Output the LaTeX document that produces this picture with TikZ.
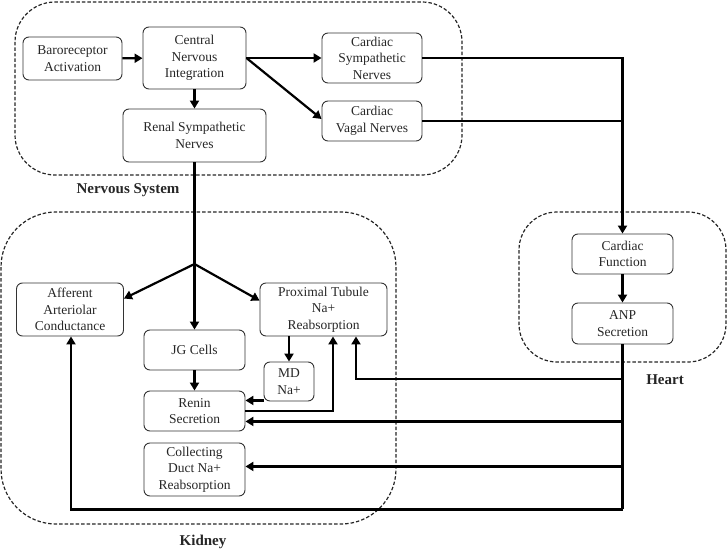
\documentclass[tikz,border=0pt]{standalone}
\usepackage{fontspec}
\setmainfont{Liberation Serif}
\usetikzlibrary{arrows.meta,calc}
\begin{document}
\begin{tikzpicture}[x=1pt,y=-1pt,
 box/.style={draw=black!80, line width=0.9pt, rounded corners=6pt, align=center, inner sep=0pt, text=black!85, font=\fontsize{13.5}{16.5}\selectfont},
 grp/.style={draw=black!85, dash pattern=on 3.5pt off 2pt, line width=1.2pt},
 lbl/.style={font=\fontsize{15}{18}\selectfont\bfseries, text=black!85},
 arr/.style={draw=black, line width=2.2pt, -{Triangle[length=8pt,width=9pt]}},
 bus/.style={draw=black, line width=2.2pt}]
\useasboundingbox (0,0) rectangle (727,553);
% groups
\draw[grp, rounded corners=40pt] (15,2) rectangle (462,175);
\draw[grp, rounded corners=55pt] (1,212) rectangle (396,524);
\draw[grp, rounded corners=38pt] (519,212) rectangle (726,362);
\node[lbl] (nslbl) at (128,190) {Nervous System};
\node[lbl] (kdlbl) at (203,542) {Kidney};
\node[lbl] (htlbl) at (665,380) {Heart};
% nodes
\node[box, minimum width=99pt, minimum height=43pt] (baro) at (72.5,58.5) {Baroreceptor\\Activation};
\node[box, minimum width=103pt, minimum height=62pt] (cni) at (194.5,58) {Central\\Nervous\\Integration};
\node[box, minimum width=100pt, minimum height=50pt] (csn) at (372,58) {Cardiac\\Sympathetic\\Nerves};
\node[box, minimum width=100pt, minimum height=40pt] (cvn) at (372,121) {Cardiac\\Vagal Nerves};
\node[box, minimum width=143pt, minimum height=53pt] (rsn) at (194.5,135.5) {Renal Sympathetic\\Nerves};
\node[box, minimum width=101pt, minimum height=40pt] (cf) at (622.5,254) {Cardiac\\Function};
\node[box, minimum width=101pt, minimum height=41pt] (anp) at (622.5,323.5) {ANP\\Secretion};
\node[box, minimum width=107pt, minimum height=53pt] (aac) at (70,309.5) {Afferent\\Arteriolar\\Conductance};
\node[box, minimum width=127pt, minimum height=53pt] (ptn) at (323.5,309.5) {Proximal Tubule\\Na+\\Reabsorption};
\node[box, minimum width=101pt, minimum height=40pt] (jg) at (194.5,350) {JG Cells};
\node[box, minimum width=50pt, minimum height=39pt] (md) at (289,381.5) {MD\\Na+};
\node[box, minimum width=101pt, minimum height=40pt] (ren) at (194.5,411) {Renin\\Secretion};
\node[box, minimum width=101pt, minimum height=53pt] (cd) at (194.5,469.5) {Collecting\\Duct Na+\\Reabsorption};
% nervous connectors
\draw[arr] (baro) -- (cni);
\draw[arr] (cni.east) -- (csn.west);
\draw[arr] (cni.east) -- ([yshift=2pt]cvn.west);
\draw[arr] (cni) -- (rsn);
\draw[arr] (csn.east) -| (cf.north);
\draw[bus] (cvn.east) -- (cvn.east -| cf.north);
\draw[arr] (cf) -- (anp);
% kidney connectors
\coordinate (br) at (194.5,264);
\draw[bus] (rsn.south) -- (br);
\draw[arr] (br) -- ([yshift=-16pt]aac.north east);
\draw[arr] (br) -- ([yshift=-18pt]ptn.north west);
\draw[arr] (br) -- (jg.north);
\draw[arr] (md.north |- ptn.south) -- (md.north);
\draw[arr] (jg) -- (ren);
\path ($(md.south west)+(0,-1)$) coordinate (mdo);
\draw[arr] (mdo) -- (mdo -| ren.east);
\draw[arr] (ren.east) -| ([xshift=9.5pt]ptn.south);
% ANP bus
\path (anp.south) ++(0,34.5) coordinate (b1);
\path (anp.south) ++(0,77) coordinate (b2);
\path (anp.south) ++(0,122) coordinate (b3);
\path (anp.south) ++(0,165) coordinate (b4);
\draw[bus] (anp.south) -- (b4);
\draw[arr] (b1) -| ([xshift=32.5pt]ptn.south);
\draw[arr] (b2) -- (b2 -| ren.east);
\draw[arr] (b3) -- (b3 -| cd.east);
\draw[arr] (b4) -| ([xshift=1pt]aac.south);
\end{tikzpicture}
\end{document}
